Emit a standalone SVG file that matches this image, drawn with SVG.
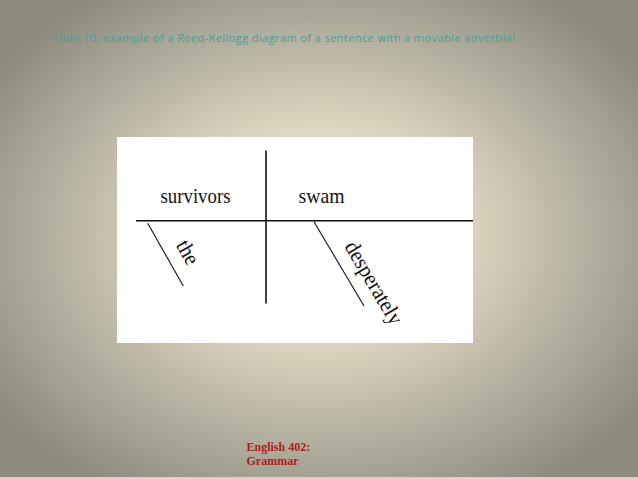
<svg xmlns="http://www.w3.org/2000/svg" width="638" height="479" viewBox="0 0 638 479">
<defs>
<radialGradient id="bg" cx="50%" cy="50%" r="62%" fx="50%" fy="48%">
<stop offset="0" stop-color="#ece7d0"/>
<stop offset="0.35" stop-color="#ddd8c1"/>
<stop offset="0.7" stop-color="#b2ae9d"/>
<stop offset="1" stop-color="#8c8a7d"/>
</radialGradient>
<style>
.w{font-family:"Liberation Serif","Times New Roman",serif;font-size:22px;fill:#111111}
.ln{stroke:#111;stroke-width:1.6;fill:none}
.thin{stroke:#111;stroke-width:1.1;fill:none}
.title{font-family:"Open Sans","Liberation Sans",sans-serif;font-size:11px;fill:#4a9c9e}
.foot{font-family:"Liberation Serif","Times New Roman",serif;font-size:12px;font-weight:bold;fill:#b01c1c}
</style>
</defs>
<rect x="0" y="0" width="638" height="479" fill="url(#bg)"/>
<rect x="0" y="477" width="638" height="2" fill="#d6d4ca"/>
<text class="title" x="54" y="42" textLength="461" lengthAdjust="spacing">slide 10: example of a Reed-Kellogg diagram of a sentence with a movable adverbial</text>
<rect x="117" y="137" width="356" height="206" fill="#ffffff"/>
<g id="connectors">
<line class="ln" x1="136" y1="220.7" x2="473" y2="220.7"/>
<line class="ln" x1="266" y1="150.5" x2="266" y2="303.5"/>
<line class="thin" x1="147.7" y1="223.3" x2="183.3" y2="286"/>
<line class="thin" x1="314" y1="221.7" x2="364" y2="306"/>
</g>
<g id="subject"><text class="w" x="160.5" y="202.7" textLength="70" lengthAdjust="spacingAndGlyphs">survivors</text></g>
<g id="verb"><text class="w" x="298.5" y="203.3" textLength="46" lengthAdjust="spacingAndGlyphs">swam</text></g>
<g id="mod-the"><text class="w" transform="translate(175.5,245) rotate(60.4)" textLength="25" lengthAdjust="spacingAndGlyphs">the</text></g>
<g id="mod-desperately"><text class="w" transform="translate(344,246.5) rotate(59.4)" textLength="93" lengthAdjust="spacingAndGlyphs">desperately</text></g>
<text class="foot" x="246.5" y="451">English 402:</text>
<text class="foot" x="246.5" y="464.5">Grammar</text>
</svg>
